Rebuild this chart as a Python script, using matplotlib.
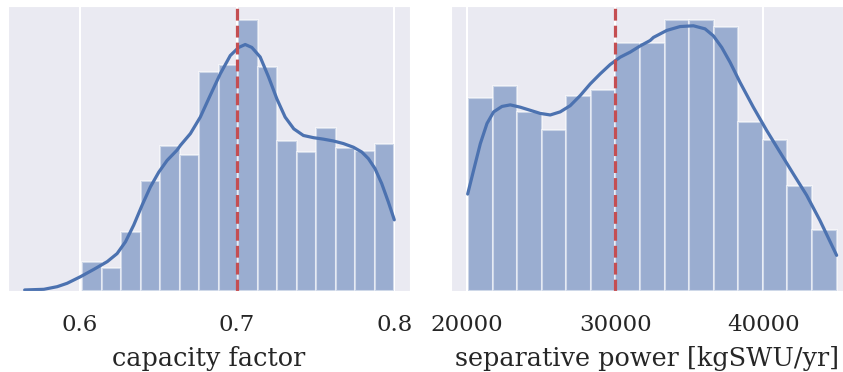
import numpy as np
import matplotlib
matplotlib.use('Agg')
import matplotlib.pyplot as plt
import seaborn as sns

sns.set_style('darkgrid')
plt.rcParams['font.family'] = ['DejaVu Serif']

blue = '#4c72b0'
red = '#c44e52'

# capacity factor histogram (counts per bin) and smoothed density on count scale
cf_edges = np.linspace(0.6015, 0.8, 17)
cf_counts = [4, 3.2, 8, 15, 19.7, 18.5, 29.8, 30.8, 37, 30.6, 20.5, 18.9, 22.2, 19.5, 19.1, 20]
cf_kde_x = [0.5649, 0.5771, 0.5856, 0.5919, 0.6004, 0.6089, 0.6174, 0.6237, 0.6290, 0.6343,
            0.6396, 0.6449, 0.6502, 0.6555, 0.6618, 0.6640, 0.6703, 0.6766, 0.6830, 0.6893,
            0.6957, 0.7010, 0.7052, 0.7094, 0.7147, 0.7200, 0.7253, 0.7306, 0.7361, 0.7422,
            0.7486, 0.7549, 0.7613, 0.7676, 0.7740, 0.7793, 0.7835, 0.7877, 0.7920, 0.7962,
            0.7994, 0.8]
cf_kde_y = [0.14, 0.23, 0.59, 1.05, 1.95, 2.95, 4.0, 5.1, 6.7, 9.0,
            11.7, 14.2, 16.2, 17.8, 19.2, 19.86, 21.45, 23.7, 26.7, 29.6,
            32.1, 33.2, 33.6, 33.2, 31.9, 29.2, 26.2, 23.7, 22.1, 21.2,
            20.9, 20.7, 20.45, 20.1, 19.6, 18.95, 18.05, 16.7, 14.65, 12.15,
            10.1, 9.7]
cf_ref = 0.7

# separative power histogram and smoothed density
sp_edges = np.linspace(20070, 44940, 16)
sp_counts = [24.9, 26.4, 23.1, 20.8, 25.1, 25.9, 32, 32, 35, 35, 34, 21.8, 19.5, 13.5, 7.9]
sp_kde_x = [20045, 20449, 20899, 21348, 21798, 22360, 22921, 23595, 24269, 24943,
            25617, 26290, 26964, 27638, 28312, 28986, 29660, 30334, 31008, 31682,
            32356, 32580, 33478, 34378, 35275, 36063, 36624, 37190, 37748, 38423,
            39320, 40220, 41118, 42017, 42916, 43815, 44940]
sp_kde_y = [12.5, 15.6, 19.0, 21.6, 23.1, 23.8, 24.0, 23.7, 23.3, 22.9,
            22.7, 23.1, 23.9, 25.2, 26.7, 28.0, 29.2, 30.15, 30.8, 31.6,
            32.3, 32.7, 33.6, 34.1, 34.2, 33.8, 32.9, 31.4, 29.5, 26.9,
            23.7, 20.7, 17.9, 15.1, 12.35, 9.1, 4.6]
sp_ref = 30000

fig = plt.figure(figsize=(8.43, 3.72), dpi=100)
ax1 = fig.add_axes([8 / 843, 81 / 372, 402 / 843, 285 / 372])
ax2 = fig.add_axes([451 / 843, 81 / 372, 392 / 843, 285 / 372])

panels = [
    (ax1, cf_edges, cf_counts, cf_kde_x, cf_kde_y, cf_ref, 'capacity factor',
     [0.6, 0.7, 0.8], (0.5543, 0.810)),
    (ax2, sp_edges, sp_counts, sp_kde_x, sp_kde_y, sp_ref, 'separative power [kgSWU/yr]',
     [20000, 30000, 40000], (18920, 45370)),
]

for ax, edges, counts, kx, ky, ref, label, ticks, xlim in panels:
    ax.bar(edges[:-1], counts, width=np.diff(edges), align='edge',
           color=blue, alpha=0.5, edgecolor='white', linewidth=1.5)
    ax.plot(kx, ky, color=blue, linewidth=2.3, solid_capstyle='round')
    ax.axvline(ref, color=red, linestyle='--', linewidth=2.3)
    ax.set_xlim(*xlim)
    ax.set_xticks(ticks)
    ax.set_yticks([])
    ax.grid(True, color='white', linewidth=1.5)
    ax.tick_params(axis='x', labelsize=16.5, pad=13)
    ax.set_xlabel(label, fontsize=18.4, labelpad=7)

fig.savefig('out.png', dpi=100)
